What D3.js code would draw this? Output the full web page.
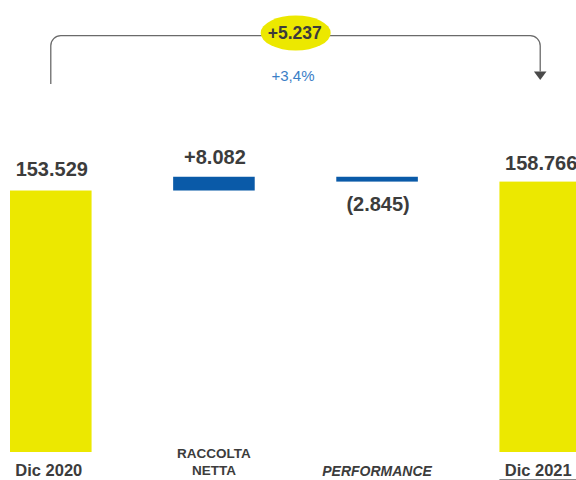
<!DOCTYPE html>
<html>
<head>
<meta charset="utf-8">
<script src="https://cdn.jsdelivr.net/npm/d3@7"></script>
<style>
  html, body { margin: 0; padding: 0; background: #ffffff; }
  svg { display: block; font-family: "Liberation Sans", Arial, Helvetica, sans-serif; }
</style>
</head>
<body>
<svg id="chart" width="576" height="480"></svg>
<script>
// ---- data ----
const categories = ["Dic 2020", "RACCOLTA NETTA", "PERFORMANCE", "Dic 2021"];
const categoryLines = [["Dic 2020"], ["RACCOLTA", "NETTA"], ["PERFORMANCE"], ["Dic 2021"]];
const values = [153529, 8082, -2845, 158766];
const kinds = ["total", "delta", "delta", "total"];
const totalChange = 5237;

// ---- styles ----
const YELLOW = "#ece800";
const BLUE = "#0a5aa8";
const TEXT = "#3c3c3c";
const PCT = "#3a7ec6";
const LINE = "#6a6a6a";

const itLocale = d3.formatLocale({ decimal: ",", thousands: ".", grouping: [3], currency: ["€", ""] });
const fmt = itLocale.format(",d");
const fmtSigned = itLocale.format("+,d");
const fmtPct = itLocale.format("+.1%");

const svg = d3.select("#chart");

const x = d3.scaleBand().domain(categories).range([10, 581]).paddingInner(0.5).paddingOuter(0);
const y = d3.scaleLinear().domain([0, 160000]).range([452, 179.5]);

// compute waterfall extents
let running = 0;
const bars = categories.map((c, i) => {
  let lo, hi;
  if (kinds[i] === "total") { lo = 0; hi = values[i]; running = values[i]; }
  else { const start = running; running += values[i]; lo = Math.min(start, running); hi = Math.max(start, running); }
  return { cat: c, value: values[i], kind: kinds[i], lo, hi, lines: categoryLines[i] };
});

// bars
svg.append("g").selectAll("rect").data(bars).join("rect")
  .attr("x", d => x(d.cat))
  .attr("width", x.bandwidth())
  .attr("y", d => y(d.hi))
  .attr("height", d => y(d.lo) - y(d.hi))
  .attr("fill", d => d.kind === "total" ? YELLOW : BLUE);

// value labels
svg.append("g").selectAll("text").data(bars).join("text")
  .attr("x", d => x(d.cat) + x.bandwidth() / 2 + 1)
  .attr("y", d => {
    if (d.kind === "total") return y(d.hi) - (d === bars[0] ? 15 : 12);
    if (d.value >= 0) return y(d.hi) - 13;
    return y(d.lo) + 29;
  })
  .attr("text-anchor", "middle")
  .attr("font-size", 20)
  .attr("font-weight", "bold")
  .attr("fill", TEXT)
  .text(d => d.kind === "total" ? fmt(d.value) : (d.value >= 0 ? fmtSigned(d.value) : "(" + fmt(-d.value) + ")"));

// category labels
const catG = svg.append("g");
bars.forEach((d, i) => {
  const cx = x(d.cat) + x.bandwidth() / 2;
  if (d.kind === "total") {
    catG.append("text")
      .attr("x", cx - 2).attr("y", 475.5)
      .attr("text-anchor", "middle")
      .attr("font-size", 16.5).attr("font-weight", "bold").attr("fill", TEXT)
      .text(d.lines[0]);
    if (i === categories.length - 1) {
      catG.append("line")
        .attr("x1", x(d.cat)).attr("x2", 576)
        .attr("y1", 479.5).attr("y2", 479.5)
        .attr("stroke", "#8a8a8a").attr("stroke-width", 1.2);
    }
  } else {
    const italic = d.lines.length === 1;
    const t = catG.append("text")
      .attr("text-anchor", "middle")
      .attr("font-weight", "bold").attr("fill", TEXT)
      .attr("font-size", italic ? 14 : 13.5)
      .attr("font-style", italic ? "italic" : "normal");
    if (italic) {
      t.attr("x", cx).attr("y", 476).text(d.lines[0]);
    } else {
      d.lines.forEach((ln, j) => {
        t.append("tspan").attr("x", cx).attr("y", 458.3 + j * 16.4).text(ln);
      });
    }
  }
});

// bracket with arrow
const xl = x(categories[0]) + x.bandwidth() / 2;
const xr = x(categories[categories.length - 1]) + x.bandwidth() / 2;
const yTop = 35.7, r = 10, yLeftEnd = 84, yArrowTip = 80, ah = 8.5, aw = 6.3;
const p = d3.path();
p.moveTo(xl, yLeftEnd);
p.lineTo(xl, yTop + r);
p.arcTo(xl, yTop, xl + r, yTop, r);
p.lineTo(xr - r, yTop);
p.arcTo(xr, yTop, xr, yTop + r, r);
p.lineTo(xr, yArrowTip - ah);
svg.append("path").attr("d", p.toString())
  .attr("fill", "none").attr("stroke", LINE).attr("stroke-width", 1.3);
svg.append("path")
  .attr("d", `M${xr - aw},${yArrowTip - ah}L${xr + aw},${yArrowTip - ah}L${xr},${yArrowTip}Z`)
  .attr("fill", "#4a4a4a");

// ellipse with total change
const ex = 295.7, ey = 33;
svg.append("ellipse").attr("cx", ex).attr("cy", ey).attr("rx", 35).attr("ry", 17.5).attr("fill", YELLOW);
svg.append("text").attr("x", ex - 1).attr("y", 39.3)
  .attr("text-anchor", "middle").attr("font-size", 17.5).attr("font-weight", "bold").attr("fill", TEXT)
  .text(fmtSigned(totalChange));
svg.append("text").attr("x", 293).attr("y", 81)
  .attr("text-anchor", "middle").attr("font-size", 15).attr("fill", PCT)
  .text(fmtPct(totalChange / values[0]));
</script>
</body>
</html>
